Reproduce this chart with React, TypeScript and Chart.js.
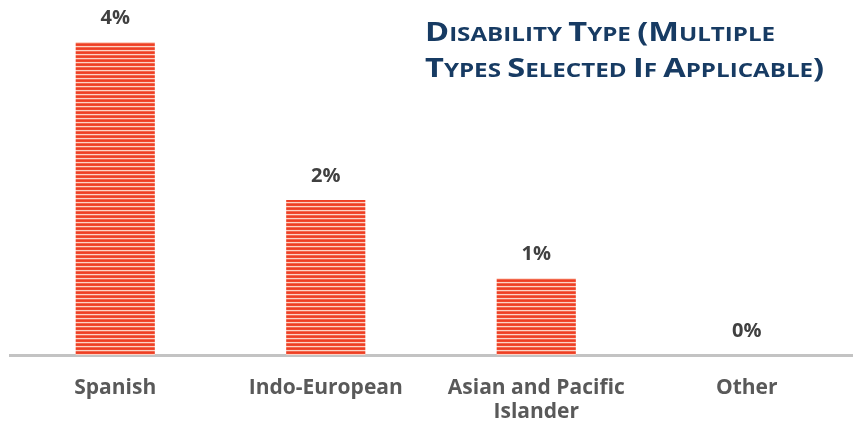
import React, { useEffect, useRef } from "react";
import { Chart, registerables } from "chart.js";

Chart.register(...registerables);

const categories: string[][] = [["Spanish"], ["Indo-European"], ["Asian and Pacific", "Islander"], ["Other"]];
const values: number[] = [4.0, 1.98, 0.98, 0];
const valueLabels: string[] = ["4%", "2%", "1%", "0%"];
const titleLines: string[] = ["Disability Type (Multiple", "Types Selected If Applicable)"];

const FONT = "'Open Sans', Lato, sans-serif";

function makePattern(): CanvasPattern | string {
  const c = document.createElement("canvas");
  c.width = 4;
  c.height = 4;
  const ctx = c.getContext("2d");
  if (!ctx) return "#ee4a2e";
  const rows = ["#ee3f24", "#f0492f", "#fcd3c6", "#f2674d"];
  rows.forEach((col, i) => {
    ctx.fillStyle = col;
    ctx.fillRect(0, i, 4, 1);
  });
  return ctx.createPattern(c, "repeat") || "#ee4a2e";
}

const titlePlugin = {
  id: "smallCapsTitle",
  afterDraw(chart: any) {
    const ctx = chart.ctx as CanvasRenderingContext2D;
    ctx.save();
    ctx.fillStyle = "#173b63";
    ctx.textBaseline = "alphabetic";
    ctx.textAlign = "left";
    const big = `bold 27px ${FONT}`;
    const small = `bold 20px ${FONT}`;
    const baselines = [41, 77];
    const left = 425;
    const measure = (line: string) => {
      let w = 0;
      for (const ch of line) {
        const isLower = ch >= "a" && ch <= "z";
        ctx.font = isLower || ch === " " ? small : big;
        w += ctx.measureText(isLower ? ch.toUpperCase() : ch).width;
      }
      return w;
    };
    const sx = (345 / measure(titleLines[0]) + 405 / measure(titleLines[1])) / 2;
    titleLines.forEach((line, li) => {
      ctx.save();
      ctx.translate(left, baselines[li]);
      ctx.scale(sx, 1);
      let x = 0;
      for (const ch of line) {
        const isLower = ch >= "a" && ch <= "z";
        ctx.font = isLower || ch === " " ? small : big;
        const t = isLower ? ch.toUpperCase() : ch;
        ctx.fillText(t, x, 0);
        x += ctx.measureText(t).width;
      }
      ctx.restore();
    });
    ctx.restore();
  },
};

const valueLabelPlugin = {
  id: "valueLabels",
  afterDatasetsDraw(chart: any) {
    const ctx = chart.ctx as CanvasRenderingContext2D;
    const meta = chart.getDatasetMeta(0);
    ctx.save();
    ctx.fillStyle = "#404040";
    ctx.font = `bold 20px ${FONT}`;
    ctx.textAlign = "center";
    ctx.textBaseline = "alphabetic";
    meta.data.forEach((bar: any, i: number) => {
      ctx.fillText(valueLabels[i], bar.x, bar.y - 18);
    });
    ctx.restore();
  },
};

export default function App() {
  const ref = useRef<HTMLCanvasElement | null>(null);
  useEffect(() => {
    if (!ref.current) return;
    const pattern = makePattern();
    const chart = new Chart(ref.current, {
      type: "bar",
      data: {
        labels: categories,
        datasets: [
          {
            data: values,
            backgroundColor: pattern as any,
            borderWidth: 0,
            categoryPercentage: 1,
            barPercentage: 0.376,
          },
        ],
      },
      options: {
        animation: false,
        responsive: false,
        maintainAspectRatio: false,
        layout: { padding: { left: 10, right: 1, top: 20, bottom: 0 } },
        plugins: { legend: { display: false }, tooltip: { enabled: false }, title: { display: false } },
        scales: {
          x: {
            grid: { display: false, drawTicks: false },
            border: { display: true, color: "#c3c3c3", width: 3 },
            ticks: {
              color: "#595959",
              font: { family: FONT, size: 21, weight: "bold", lineHeight: 1.15 },
              padding: 21,
              maxRotation: 0,
              autoSkip: false,
            },
            afterFit: (scale: any) => {
              scale.height = 74;
            },
          },
          y: { display: false, min: 0, max: 4.28 },
        },
      },
      plugins: [titlePlugin, valueLabelPlugin],
    });
    return () => chart.destroy();
  }, []);
  return (
    <div style={{ position: "absolute", left: 0, top: 0, width: 853, height: 429, background: "#fff" }}>
      <canvas ref={ref} width={853} height={429} style={{ width: 853, height: 429 }} />
    </div>
  );
}
